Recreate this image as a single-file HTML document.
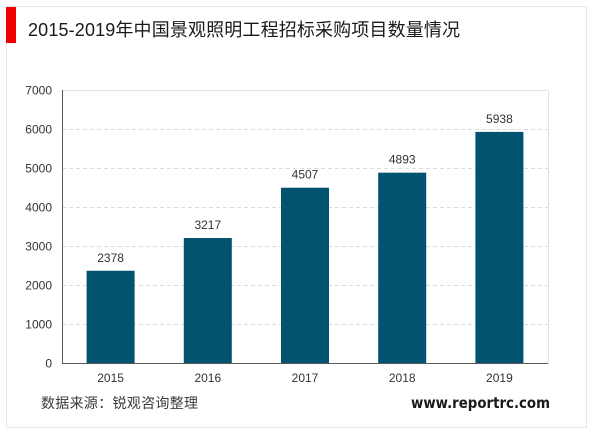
<!DOCTYPE html>
<html lang="zh">
<head>
<meta charset="utf-8">
<title>2015-2019年中国景观照明工程招标采购项目数量情况</title>
<style>
html,body{margin:0;padding:0;background:#fff;}
#stage{position:relative;width:600px;height:433px;overflow:hidden;background:#fff;font-family:"Liberation Sans","Noto Sans CJK SC",sans-serif;}
svg{position:absolute;left:0;top:0;}
svg text{font-family:"Liberation Sans","Noto Sans CJK SC",sans-serif;}
</style>
</head>
<body>
<div id="stage">
<svg id="chart" width="600" height="433" viewBox="0 0 600 433" xmlns="http://www.w3.org/2000/svg">
  <rect x="6.5" y="6.5" width="580" height="421" fill="#fff" stroke="#e6e6e6" stroke-width="1"/>
  <rect x="6" y="7" width="10" height="36" fill="#f00000"/>
  <text x="28" y="36" font-size="18" fill="#1a1a1a" textLength="432" lengthAdjust="spacing">2015-2019年中国景观照明工程招标采购项目数量情况</text>
  <rect x="62.5" y="90.5" width="486" height="273" fill="#fff" stroke="#e4e4e4" stroke-width="1"/>
  <g id="grid"></g>
  <g id="bars"></g>
  <g id="values"></g>
  <g id="yticks"></g>
  <g id="xticks"></g>
  <line x1="62.5" y1="90" x2="62.5" y2="364" stroke="#595959" stroke-width="1"/>
  <line x1="62" y1="363.5" x2="548" y2="363.5" stroke="#595959" stroke-width="1"/>
  <text x="41" y="408" font-size="14" fill="#3a3a3a" textLength="157" lengthAdjust="spacing">数据来源：锐观咨询整理</text>
  <text x="550" y="408" font-size="15" font-weight="bold" text-anchor="end" fill="#1a1a1a" font-family="'DejaVu Sans',sans-serif" style="font-family:'DejaVu Sans',sans-serif" textLength="139" lengthAdjust="spacingAndGlyphs">www.reportrc.com</text>
</svg>
</div>
<script>
const categories = ['2015', '2016', '2017', '2018', '2019'];
const seriesValues = [2378, 3217, 4507, 4893, 5938];
const yTicks = [0, 1000, 2000, 3000, 4000, 5000, 6000, 7000];

const plotLeft = 62, plotRight = 548, plotTop = 90.5, plotBottom = 363.5;
const yMax = 7000, barWidth = 48;
const NS = 'http://www.w3.org/2000/svg';

function yScale(v) {
  return plotBottom - (v / yMax) * (plotBottom - plotTop);
}
function xCenter(i) {
  return plotLeft + (i + 0.5) * (plotRight - plotLeft) / categories.length;
}
function make(tag, attrs, parentId, text) {
  const el = document.createElementNS(NS, tag);
  for (const k in attrs) el.setAttribute(k, attrs[k]);
  if (text !== undefined) el.textContent = text;
  document.getElementById(parentId).appendChild(el);
  return el;
}

yTicks.forEach(function (t) {
  const y = yScale(t);
  const label = make('text', {x: 52, y: y + 4, 'font-size': 12, 'text-anchor': 'end', fill: '#333'}, 'yticks', String(t));
  
  
  if (t > 0 && t < yMax) {
    const line = make('line', {x1: plotLeft, y1: y, x2: plotRight, y2: y, stroke: '#dcdcdc', 'stroke-width': 1, 'stroke-dasharray': '4 3'}, 'grid');
    
    
  }
});

categories.forEach(function (c, i) {
  const v = seriesValues[i];
  const cx = xCenter(i);
  const top = yScale(v);
  const bar = make('rect', {x: cx - barWidth / 2, y: top, width: barWidth, height: plotBottom - top, fill: '#02536f'}, 'bars');
  
  
  const val = make('text', {x: cx, y: top - 9, 'font-size': 12, 'text-anchor': 'middle', fill: '#333'}, 'values', String(v));
  
  
  const tick = make('text', {x: cx, y: 382, 'font-size': 12, 'text-anchor': 'middle', fill: '#333'}, 'xticks', c);
  
  
});
</script>
</body>
</html>
